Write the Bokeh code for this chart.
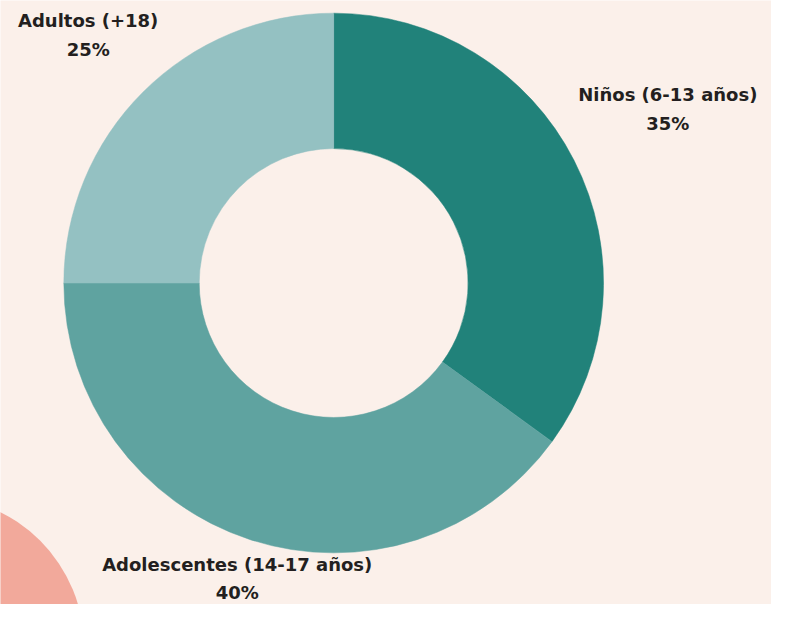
import math
from bokeh.plotting import figure
from bokeh.models import Range1d, ColumnDataSource
from bokeh.core.properties import value
from bokeh.embed import file_html
from bokeh.resources import INLINE

# ---- data ----
categories = ["Niños (6-13 años)", "Adolescentes (14-17 años)", "Adultos (+18)"]
percentages = [35, 40, 25]
colors = ["#21827a", "#5fa3a0", "#94c1c2"]

# ---- layout (data units = reference pixels, y up) ----
W, H = 771, 604
REF_H = 620
scale = H / REF_H
BG = "#fbf0ea"
cx, cy = 342, REF_H - 290
r_out, r_in = 277, 138
# label anchor points for each category (first line)
label_pos = [(685, REF_H - 97), (243, REF_H - 579), (90, REF_H - 21)]
line_gap = 29

p = figure(width=W, height=H, output_backend="svg", toolbar_location=None,
           x_range=Range1d(0, W / scale), y_range=Range1d(0, REF_H), min_border=0,
           background_fill_color=BG, border_fill_color=BG, outline_line_color=None)
p.axis.visible = False
p.grid.visible = False

# decorative pink circle bottom-left
p.circle(x=[-69], y=[REF_H - 664], radius=155, fill_color="#f2a99b", line_color=None)

# wedges, clockwise from top
total = sum(percentages)
starts, ends = [], []
a = math.pi / 2
for v in percentages:
    e = a - 2 * math.pi * v / total
    starts.append(a)
    ends.append(e)
    a = e

src = ColumnDataSource(dict(start=starts, end=ends, color=colors))
p.annular_wedge(x=cx, y=cy, inner_radius=r_in, outer_radius=r_out,
                start_angle="start", end_angle="end", direction="clock",
                fill_color="color", line_color="color", line_width=0.5, source=src)

# labels
lx = [q[0] for q in label_pos]
ly = [q[1] for q in label_pos]
font_px = "18px"
p.text(x=lx, y=ly, text=categories, text_font=value("DejaVu Sans"), text_font_style="bold",
       text_font_size=font_px, text_color="#231f20", text_align="center", text_baseline="middle")
p.text(x=lx, y=[y - line_gap for y in ly], text=[f"{v}%" for v in percentages],
       text_font=value("DejaVu Sans"), text_font_style="bold",
       text_font_size=font_px, text_color="#231f20", text_align="center", text_baseline="middle")

open("out.html", "w").write(file_html(p, INLINE))
